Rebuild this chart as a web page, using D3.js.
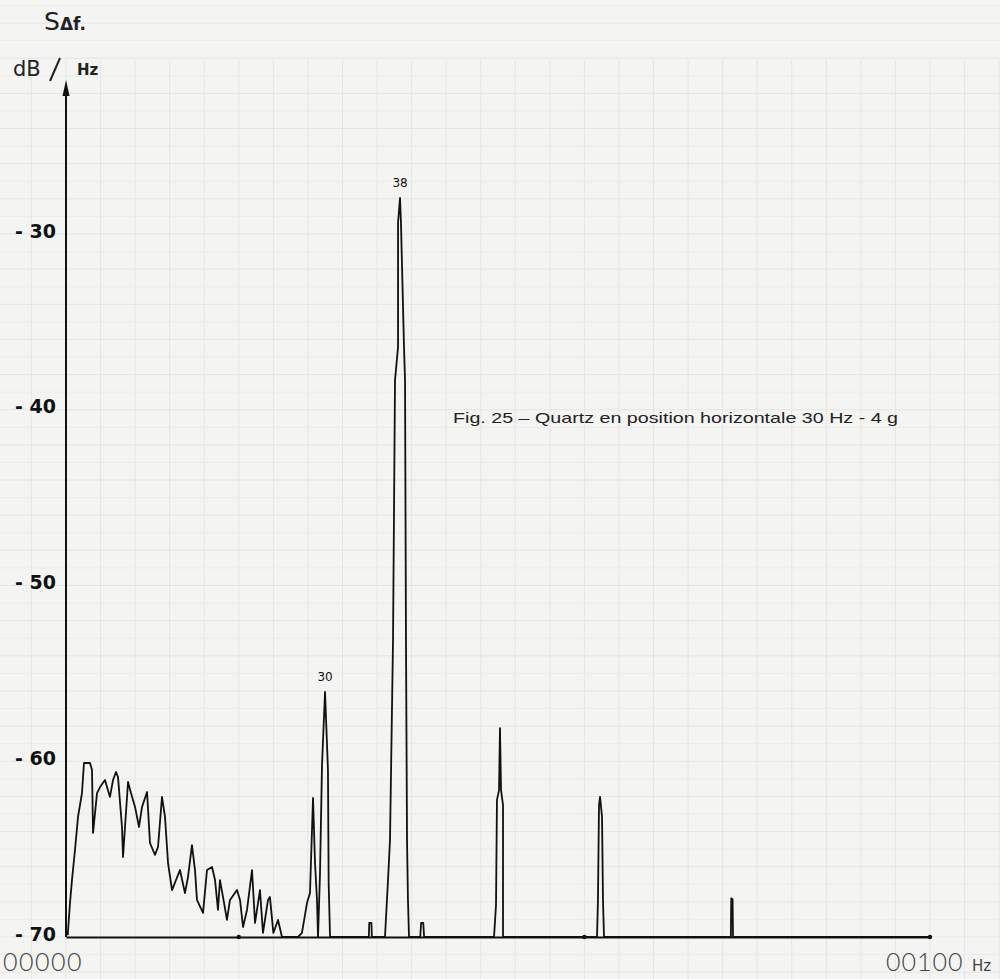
<!DOCTYPE html>
<html>
<head>
<meta charset="utf-8">
<script src="https://cdn.jsdelivr.net/npm/d3@7/dist/d3.min.js"></script>
<style>
  html, body { margin: 0; padding: 0; background: #f4f4f2; }
  svg { display: block; }
</style>
</head>
<body>
<svg id="chart" width="1000" height="979"></svg>
<script>
// ---- data ----
const yTicks = [-30, -40, -50, -60, -70];
const xDomain = [0, 100];
const yDomain = [-70, -30];
const xStartLabel = "00000";
const xEndLabel = "00100";
const xUnit = "Hz";
const yTitleS = "S";
const yTitleSub = "Δf.";
const yTitleUnitA = "dB";
const yTitleUnitB = "Hz";
const caption = "Fig. 25 – Quartz en position horizontale 30 Hz - 4 g";
const peakLabels = ["38", "30"];
const peakLabelFreq = [38.66, 29.98];
const peakLabelDb = [-27.95, -56.06];

// spectrum trace: frequency (Hz) and level (dB/Hz), in plotting order
const traceHz = [
  0.2, 0.46, 0.69, 1.04, 1.39, 1.85, 2.08, 2.78, 3.01, 3.13, 3.59, 3.94, 4.51, 5.09, 5.44,
  5.79, 6.02, 6.48, 6.6, 6.83, 7.18, 7.52, 7.99, 8.45, 8.8, 9.38, 9.72, 10.3, 10.65, 11.11,
  11.46, 11.81, 12.27, 13.19, 13.77, 14.12, 14.58, 14.93, 15.16, 15.86, 16.32, 16.9, 17.25, 17.59, 17.82,
  18.17, 18.63, 18.98, 19.79, 20.14, 20.49, 20.95, 21.53, 21.88, 22.45, 22.8, 23.38, 23.6, 24.0, 24.54,
  25.0, 26.85, 27.31, 27.89, 28.24, 28.59, 28.82, 29.05, 29.17, 29.4, 29.63, 29.98, 30.32, 30.4, 30.56,
  35.05, 35.1, 35.35, 35.4,
  36.92, 37.27, 37.5, 37.85, 38.08, 38.43, 38.43, 38.66, 38.77, 39.12, 39.24, 39.35, 39.47, 39.58, 39.7,
  41.0, 41.1, 41.35, 41.45,
  49.54, 49.77, 49.88, 50.12, 50.23, 50.35, 50.58, 50.58,
  61.46, 61.57, 61.69, 61.81, 62.04, 62.15, 62.27,
  76.95, 77.0, 77.15, 77.2,
  100
];
const traceDb = [
  -69.9, -68.07, -66.76, -65.05, -63.17, -61.81, -60.1, -60.1, -60.5, -64.08, -61.81, -61.47, -61.07, -62.03, -61.07,
  -60.61, -60.9, -63.74, -65.45, -63.74, -61.18, -61.81, -62.6, -63.74, -62.6, -61.75, -64.65, -65.33, -64.88, -62.03,
  -63.17, -65.79, -67.33, -66.19, -67.5, -66.59, -64.77, -66.19, -67.89, -68.63, -66.19, -66.02, -66.76, -68.46, -66.76,
  -67.72, -69.03, -67.89, -67.33, -67.89, -69.43, -68.46, -66.19, -69.2, -67.33, -69.77, -67.89, -67.72, -69.77, -69.03,
  -70, -70, -69.77, -68.07, -67.5, -62.09, -65.79, -67.89, -70, -66.36, -60.21, -56.06, -60.5, -66.93, -70,
  -70, -69.2, -69.2, -70,
  -70, -66.76, -64.48, -53.1, -38.31, -36.43, -29.37, -27.95, -29.37, -36.43, -38.31, -53.1, -64.48, -67.89, -70,
  -70, -69.2, -69.2, -70,
  -70, -68.18, -62.2, -61.64, -58.11, -61.64, -62.49, -70,
  -70, -67.89, -62.5, -62.03, -63.17, -67.89, -70,
  -70, -67.8, -67.85, -70,
  -70
];

// ---- layout ----
const svg = d3.select("#chart");
const W = 1000, H = 979;
const x = d3.scaleLinear().domain(xDomain).range([66, 930]);
const y = d3.scaleLinear().domain(yDomain).range([937, 234]);

// paper grid (very faint)
const grid = svg.append("g");
const vGrid = d3.range(-8, 112, 4);
const hGrid = d3.range(-72, -15, 1);
grid.selectAll("line.v").data(vGrid).join("line")
  .attr("x1", d => x(d)).attr("x2", d => x(d))
  .attr("y1", 60).attr("y2", H)
  .attr("stroke", "#e5e5e3").attr("stroke-width", 1);
grid.selectAll("line.h").data(hGrid).join("line")
  .attr("x1", 0).attr("x2", W)
  .attr("y1", d => y(d)).attr("y2", d => y(d))
  .attr("stroke", d => (d % 2 === 0) ? "#e5e5e3" : "#ecece9").attr("stroke-width", 1);

// trace
const pts = traceHz.map((f, i) => [f, traceDb[i]]);
const line = d3.line().x(d => x(d[0])).y(d => y(d[1]));
svg.append("path").datum(pts)
  .attr("d", line)
  .attr("fill", "none")
  .attr("stroke", "#111")
  .attr("stroke-width", 1.8)
  .attr("stroke-linejoin", "round");

// x axis
const xAxis = d3.axisBottom(x).tickValues([20, 40, 60, 80]).tickSize(0).tickFormat("");
const gx = svg.append("g").attr("transform", `translate(0,${y(-70)})`).call(xAxis);
gx.select(".domain").attr("stroke", "#111").attr("stroke-width", 1.8);
svg.selectAll("circle.xt").data([20, 60, 100]).join("circle")
  .attr("cx", d => x(d)).attr("cy", y(-70)).attr("r", 2.2).attr("fill", "#111");

// y axis
const yAxis = d3.axisLeft(y).tickValues(yTicks).tickSize(0).tickPadding(10)
  .tickFormat(d => "- " + Math.abs(d));
const gy = svg.append("g").attr("transform", `translate(${x(0)},-3)`).call(yAxis);
gy.select(".domain").remove();
gy.selectAll("text")
  .attr("font-family", "'DejaVu Sans', sans-serif")
  .attr("font-weight", "bold")
  .attr("font-size", 19)
  .attr("fill", "#111");
svg.append("line")
  .attr("x1", x(0)).attr("x2", x(0))
  .attr("y1", y(-70)).attr("y2", 92)
  .attr("stroke", "#111").attr("stroke-width", 2);
svg.append("path")
  .attr("d", `M${x(0)},80 L${x(0) - 3.5},96 L${x(0) + 3.5},96 Z`)
  .attr("fill", "#111");

// axis titles
const t1 = svg.append("text").attr("x", 44).attr("y", 30)
  .attr("font-family", "'DejaVu Sans', sans-serif").attr("fill", "#222");
t1.append("tspan").attr("font-size", 25).text(yTitleS);
t1.append("tspan").attr("font-size", 17).attr("font-weight", "bold").text(yTitleSub);
svg.append("text").attr("x", 13).attr("y", 76)
  .attr("font-family", "'DejaVu Sans', sans-serif").attr("font-size", 21).attr("fill", "#222")
  .text(yTitleUnitA);
svg.append("line").attr("x1", 50).attr("y1", 81).attr("x2", 60).attr("y2", 58)
  .attr("stroke", "#222").attr("stroke-width", 2);
svg.append("text").attr("x", 77).attr("y", 75)
  .attr("font-family", "'DejaVu Sans', sans-serif").attr("font-weight", "bold").attr("font-size", 15).attr("fill", "#222")
  .text(yTitleUnitB);

// x axis end labels
svg.append("text").attr("x", 3).attr("y", 971)
  .attr("font-family", "Lato, 'DejaVu Sans', sans-serif").attr("font-weight", 300)
  .attr("font-size", 25).attr("letter-spacing", 1.5).attr("fill", "#444")
  .text(xStartLabel);
svg.append("text").attr("x", 886).attr("y", 971)
  .attr("font-family", "Lato, 'DejaVu Sans', sans-serif").attr("font-weight", 300)
  .attr("font-size", 25).attr("letter-spacing", 1).attr("fill", "#444")
  .text(xEndLabel);
svg.append("text").attr("x", 972).attr("y", 971)
  .attr("font-family", "'DejaVu Sans', sans-serif")
  .attr("font-size", 15).attr("fill", "#444")
  .text(xUnit);

// peak labels
svg.selectAll("text.pk").data(peakLabels).join("text")
  .attr("x", (d, i) => x(peakLabelFreq[i]))
  .attr("y", (d, i) => y(peakLabelDb[i]) - 11)
  .attr("text-anchor", "middle")
  .attr("font-family", "'DejaVu Sans', sans-serif").attr("font-size", 12)
  .attr("fill", "#111")
  .text(d => d);

// caption
svg.append("text").attr("x", 453).attr("y", 423)
  .attr("font-family", "'Liberation Sans', Arial, sans-serif").attr("font-size", 15)
  .attr("textLength", 445).attr("lengthAdjust", "spacingAndGlyphs")
  .attr("fill", "#222")
  .text(caption);
</script>
</body>
</html>
